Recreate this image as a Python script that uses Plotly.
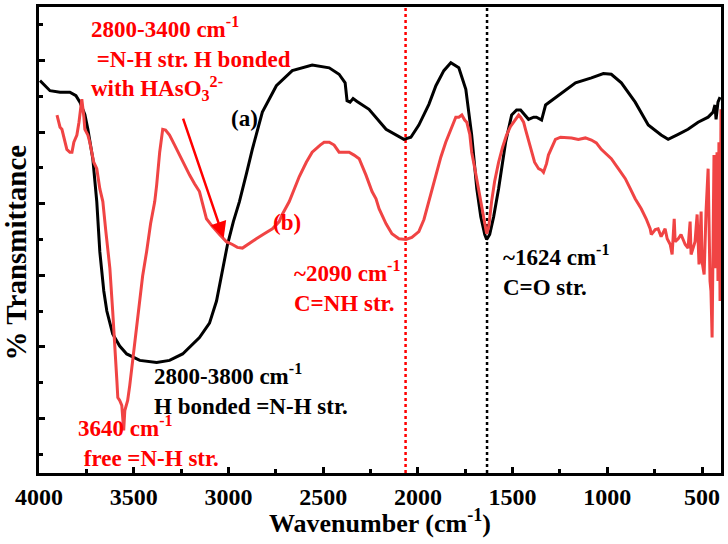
import plotly.graph_objects as go

# ---------------- data ----------------
wn_a = [3995, 3942, 3889, 3837, 3805, 3784, 3758, 3742, 3716, 3695, 3679, 3658, 3642, 3611,
        3574, 3537, 3468, 3379, 3311, 3242, 3153, 3100, 3063, 3005, 2974, 2942, 2905, 2874,
        2821, 2747, 2663, 2558, 2468, 2416, 2384, 2374, 2358, 2342, 2321, 2300, 2258, 2168,
        2116, 2074, 2037, 1995, 1942, 1905, 1863, 1826, 1784, 1747, 1716, 1689, 1668, 1647,
        1637, 1621, 1600, 1574, 1537, 1505, 1479, 1458, 1416, 1389, 1374, 1347, 1326, 1258,
        1168, 1084, 1021, 979, 926, 853, 784, 716, 679, 626, 574, 521, 468, 442, 432, 426,
        416, 405]
t_a = [57.2, 55.8, 55.6, 55.6, 55.1, 54.2, 52.5, 50.4, 46.3, 40.3, 33.3, 27.8, 25.0, 21.8,
       20.1, 19.0, 18.1, 17.8, 18.1, 19.0, 21.3, 23.3, 26.4, 34.3, 37.5, 40.3, 44.2, 47.6,
       52.8, 56.5, 58.6, 59.4, 59.0, 58.1, 56.9, 54.4, 54.2, 54.7, 54.3, 53.9, 53.2, 50.4,
       49.6, 49.0, 49.3, 51.0, 53.9, 56.5, 58.6, 59.7, 59.0, 56.0, 49.6, 42.1, 38.2, 35.7,
       35.0, 35.7, 38.2, 42.1, 48.6, 52.4, 53.1, 53.1, 51.8, 52.1, 52.1, 51.7, 53.8, 55.1,
       56.9, 57.6, 58.2, 58.1, 56.9, 54.2, 51.0, 49.6, 49.0, 49.7, 50.4, 51.4, 52.1, 52.8,
       53.8, 51.8, 54.2, 54.9]

wn_b = [3905, 3889, 3879, 3863, 3853, 3837, 3826, 3816, 3800, 3789, 3774, 3763, 3758, 3742,
        3732, 3711, 3695, 3679, 3663, 3647, 3626, 3611, 3600, 3589, 3584, 3574, 3563, 3558,
        3553, 3547, 3532, 3521, 3505, 3489, 3468, 3453, 3432, 3411, 3389, 3379, 3363, 3347,
        3332, 3311, 3284, 3258, 3232, 3205, 3179, 3153, 3116, 3084, 3047, 3011, 2979, 2953,
        2926, 2889, 2853, 2811, 2768, 2732, 2716, 2679, 2663, 2626, 2589, 2558, 2516, 2495,
        2468, 2442, 2416, 2389, 2363, 2337, 2310, 2274, 2242, 2221, 2205, 2168, 2137, 2100,
        2063, 2032, 1995, 1968, 1942, 1905, 1879, 1853, 1826, 1800, 1784, 1768, 1753, 1742,
        1726, 1716, 1700, 1679, 1663, 1647, 1637, 1626, 1611, 1595, 1574, 1553, 1532, 1511,
        1484, 1468, 1458, 1442, 1432, 1416, 1400, 1384, 1363, 1347, 1337, 1321, 1311, 1289,
        1274, 1247, 1221, 1189, 1153, 1116, 1084, 1058, 1032, 1005, 979, 942, 905, 879, 853,
        821, 795, 774, 768, 747, 732, 716, 695, 684, 668, 658, 647, 642, 626, 611, 589, 574,
        563, 558, 537, 526, 516, 505, 500, 489, 479, 468, 458, 453, 447, 437, 432, 421, 416,
        411, 405, 400]
t_b = [52.4, 50.7, 50.4, 48.6, 47.6, 47.2, 47.2, 48.6, 49.6, 51.4, 54.6, 52.1, 50.4, 49.6,
       48.6, 45.8, 44.9, 42.1, 40.3, 36.1, 31.0, 25.0, 20.8, 15.3, 12.9, 12.5, 11.8, 9.7,
       8.3, 11.1, 12.5, 14.6, 18.1, 22.2, 26.4, 29.9, 33.3, 37.2, 40.3, 42.6, 47.2, 50.4,
       50.3, 49.6, 48.2, 46.8, 45.4, 44.0, 42.8, 41.7, 37.9, 36.8, 35.7, 34.7, 34.3, 33.9,
       33.8, 34.4, 35.1, 35.8, 36.5, 37.5, 38.5, 40.3, 41.3, 43.8, 45.8, 47.2, 48.2, 48.6,
       48.6, 48.2, 47.2, 47.2, 47.2, 46.8, 46.3, 44.0, 41.7, 40.7, 39.3, 37.2, 35.8, 35.1,
       35.0, 35.3, 36.1, 37.8, 40.3, 44.0, 46.5, 48.6, 50.4, 52.1, 52.1, 52.4, 51.7, 51.4,
       49.7, 47.2, 45.0, 41.9, 39.6, 37.2, 35.8, 36.8, 40.3, 43.1, 45.8, 47.9, 49.6, 50.8,
       51.8, 52.4, 52.1, 51.4, 50.4, 48.9, 47.2, 45.8, 44.9, 44.7, 44.4, 45.6, 46.8, 48.2,
       49.0, 49.3, 49.3, 49.2, 49.0, 49.2, 48.9, 48.5, 47.6, 46.9, 46.3, 44.9, 43.5, 42.1, 40.7,
       39.3, 37.9, 36.5, 35.7, 36.4, 36.5, 35.4, 36.5, 35.1, 34.3, 32.9, 37.9, 34.7, 35.1,
       35.7, 34.3, 33.8, 37.5, 32.9, 34.7, 38.5, 31.5, 38.9, 31.9, 30.1, 38.9, 44.9, 29.2,
       27.8, 21.3, 46.8, 31.0, 47.2, 29.2, 48.6, 26.4, 53.2]

x_ticks = [4000, 3500, 3000, 2500, 2000, 1500, 1000, 500]
x_tick_labels = ["4000", "3500", "3000", "2500", "2000", "1500", "1000", "500"]
marker_lines = [2065, 1635]          # dotted guide lines (red, black)

RED_LINE = "#F04444"
RED_TXT = "#FF0000"
FONT = "Liberation Serif, Times New Roman, serif"

fig = go.Figure()
fig.add_trace(go.Scatter(x=wn_a, y=t_a, mode="lines", line=dict(color="black", width=3),
                         showlegend=False, hoverinfo="skip"))
fig.add_trace(go.Scatter(x=wn_b, y=t_b, mode="lines", line=dict(color=RED_LINE, width=3),
                         showlegend=False, hoverinfo="skip"))

for xv, col in zip(marker_lines, [RED_TXT, "black"]):
    fig.add_shape(type="line", xref="x", yref="paper", x0=xv, x1=xv, y0=0, y1=1,
                  line=dict(color=col, width=2.5, dash="dot"), layer="below")

ann = []
def txt(x, y, text, color, xanchor="left", yanchor="middle", size=23, align="left", **kw):
    ann.append(dict(x=x, y=y, xref="x", yref="y", text=text, showarrow=False,
                    xanchor=xanchor, yanchor=yanchor, align=align,
                    font=dict(family=FONT, size=size, color=color, weight="bold"), **kw))

txt(3737, 67.0, "2800-3400 cm<sup>-1</sup><br>\u00a0=N-H str. H bonded<br>with HAsO<sub>3</sub><sup>2-</sup>",
    RED_TXT, yanchor="top")
txt(2916, 51.9, "(a)", "black", xanchor="center")
txt(2690, 37.4, "(b)", RED_TXT, xanchor="center")
txt(2663, 28.5, "~2090 cm<sup>-1</sup><br>C=NH str.", RED_TXT)
txt(1563, 30.6, "~1624 cm<sup>-1</sup><br>C=O str.", "black")
txt(3405, 14.0, "2800-3800 cm<sup>-1</sup><br>H bonded =N-H str.", "black")
txt(3805, 6.7, "3640 cm<sup>-1</sup><br>\u00a0free =N-H str.", RED_TXT)

# arrow
ann.append(dict(x=3025, y=35.2, ax=3242, ay=52.1, xref="x", yref="y", axref="x", ayref="y",
                text="", showarrow=True, arrowhead=2, arrowsize=1.3, arrowwidth=2.5,
                arrowcolor=RED_TXT))

# axis titles
ann.append(dict(x=-0.034, y=0.473, xref="paper", yref="paper", text="% Transmittance",
                textangle=-90, showarrow=False, xanchor="center", yanchor="middle",
                font=dict(family=FONT, size=29, color="black", weight="bold")))
ann.append(dict(x=0.5, y=-0.104, xref="paper", yref="paper", text="Wavenumber (cm<sup>-1</sup>)",
                showarrow=False, xanchor="center", yanchor="middle",
                font=dict(family=FONT, size=26, color="black", weight="bold")))

fig.update_layout(
    width=728, height=544,
    margin=dict(l=39, r=5, t=4, b=71),
    paper_bgcolor="white", plot_bgcolor="white",
    font=dict(family=FONT, size=23, color="black", weight="bold"),
    annotations=ann,
    showlegend=False,
)
fig.update_xaxes(range=[4000, 400], tickvals=x_ticks, ticktext=x_tick_labels,
                 ticks="inside", ticklen=6, tickwidth=3, tickcolor="black",
                 showline=True, linewidth=3, linecolor="black", mirror=True,
                 showgrid=False, zeroline=False,
                 tickfont=dict(family=FONT, size=24, color="black", weight="bold"),
                 minor=dict(ticks="inside", ticklen=4, tickwidth=3, tickcolor="black",
                            dtick=250, tick0=0, showgrid=False))
fig.update_yaxes(range=[2.36, 67.5], tick0=0, dtick=10, showticklabels=False,
                 ticks="inside", ticklen=6, tickwidth=3, tickcolor="black",
                 showline=True, linewidth=3, linecolor="black", mirror=True,
                 showgrid=False, zeroline=False,
                 minor=dict(ticks="inside", ticklen=4, tickwidth=3, tickcolor="black",
                            dtick=5, tick0=0, showgrid=False))

fig.write_html("out.html")
